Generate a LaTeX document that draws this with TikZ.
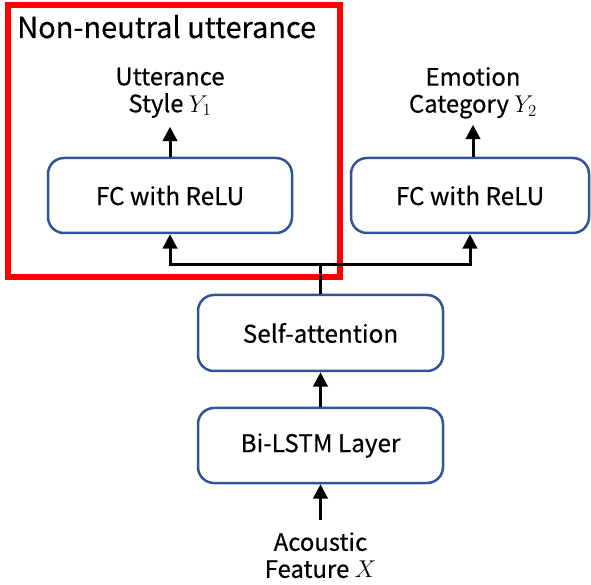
\documentclass[tikz,border=0pt]{standalone}
\usepackage{fontspec}
\setmainfont{Noto Sans CJK KR}[UprightFeatures={FakeBold=0.35}]
\usetikzlibrary{arrows.meta}
\begin{document}
\begin{tikzpicture}[
    layer/.style={draw=boxblue, line width=0.0625cm, rounded corners=0.4cm,
                  minimum height=1.875cm, font=\fontsize{17.3}{20}\selectfont},
    label/.style={align=center, inner sep=0pt, font=\fontsize{17}{19.2}\selectfont},
    arr/.style={line width=0.075cm, -{Triangle[width=0.36cm,length=0.36cm]}}
  ]
  \definecolor{boxblue}{RGB}{47,85,151}
  \useasboundingbox (0,0) rectangle (14.775,14.600);

  % Drawing non-neutral frame
  \draw [red, line width=0.15cm] (0.200000,7.675000) rectangle (8.500000,14.475000);
  \node (title) [anchor=base west, inner sep=0pt, font=\fontsize{20.6}{24}\selectfont]
    at (0.425000,13.650000) {Non-neutral utterance};

  % Drawing layers
  \node (bilstm) [layer, minimum width=6.125cm] at (8.012500,3.462500) {Bi-LSTM Layer};
  \node (selfatt) [layer, minimum width=6.125cm, minimum height=1.9cm] at (8.012500,6.275000) {Self-attention};
  \node (fcstyle) [layer, minimum width=6.100cm] at (4.250000,9.712500) {FC with ReLU};
  \node (fcemo) [layer, minimum width=5.950cm] at (11.750000,9.712500) {FC with ReLU};

  % Marking inputs and outputs
  \node (feature) [label] at (8.012500,0.720000) {Acoustic\\Feature $X$};
  \node (style) [label] at (4.250000,12.280000) {Utterance\\Style $Y_1$};
  \node (emotion) [label] at (11.825000,12.280000) {Emotion\\Category $Y_2$};

  % Drawing connections
  \coordinate (split) at (8.012500,7.975000);
  \draw [arr] (8.012500,1.600000) -- (bilstm.south);
  \draw [arr] (bilstm.north) -- (selfatt.south);
  \draw [line width=0.075cm] (selfatt.north) -- (split);
  \draw [arr] (split) -| (fcstyle.south);
  \draw [arr] (split) -| (fcemo.south);
  \draw [arr] (fcstyle.north) -- ++(0,0.75) coordinate (styletip);
  \draw [arr] (fcemo.north -| emotion.south) -- ++(0,0.80) coordinate (emotiontip);
\end{tikzpicture}
\end{document}
